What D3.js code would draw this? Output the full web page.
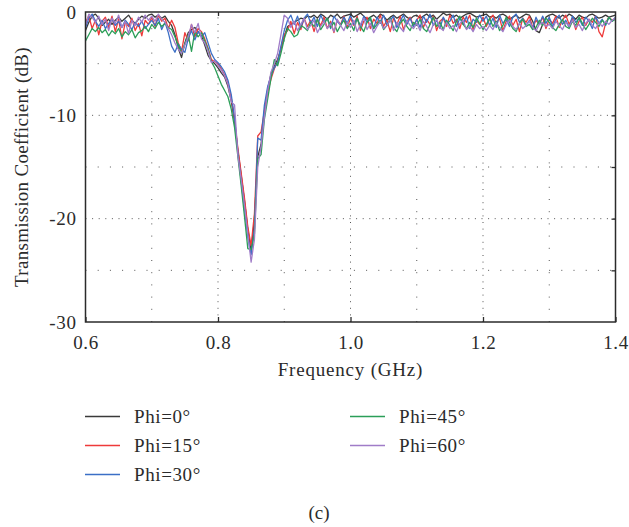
<!DOCTYPE html>
<html>
<head>
<meta charset="utf-8">
<script src="https://cdn.jsdelivr.net/npm/d3@7"></script>
<style>
  html, body { margin: 0; padding: 0; background: #fff; }
  svg { display: block; }
  svg text { font-family: 'Liberation Serif', 'DejaVu Serif', 'Times New Roman', serif; }
</style>
</head>
<body>
<script>
// sampled every 0.005 GHz from 0.6 to 1.4 GHz (161 points per curve)
var freqStep = 0.005
var freqs = d3.range(0, 161).map(i => +(0.6 + i * freqStep).toFixed(3))

var seriesNames = ['Phi=0°', 'Phi=15°', 'Phi=30°', 'Phi=45°', 'Phi=60°']
var seriesColors = ['#3a3a3a', '#ee3a3a', '#3b6fc6', '#2b9e58', '#a07cc8']

var phi0 = [
  -1.8,-1.0,-0.4,-0.2,-0.6,-1.3,-1.0,-0.7,-1.2,-0.8,-0.5,-0.9,-0.6,-0.3,-0.8,-1.1,-0.7,-0.4,-0.6,-0.3,
  -0.2,-0.5,-0.3,-0.6,-0.4,-0.9,-1.3,-2.2,-3.5,-4.4,-3.0,-2.0,-1.7,-1.5,-1.9,-2.3,-3.2,-4.2,-4.7,-5.0,
  -5.4,-5.9,-6.3,-7.2,-8.6,-10.6,-13.4,-15.8,-18.3,-21.0,-23.2,-20.0,-14.0,-12.8,-9.8,-7.5,-6.0,-5.2,-4.6,-3.6,
  -2.4,-1.4,-1.2,-1.0,-0.8,-0.6,-0.7,-0.4,-0.5,-0.3,-0.6,-0.2,-0.4,-0.7,-0.3,-0.5,-0.2,-0.6,-0.4,-0.3,
  -0.2,-0.5,-0.3,-0.1,-0.4,-0.7,-0.5,-0.3,-0.6,-0.2,-0.4,-0.8,-0.5,-0.3,-0.6,-0.4,-0.2,-0.5,-0.7,-0.4,
  -0.3,-0.6,-0.4,-0.2,-0.5,-0.3,-0.7,-0.4,-0.1,-0.3,-0.2,-0.5,-0.3,-0.6,-0.4,-0.2,-0.1,-0.3,-0.5,-0.4,
  -0.3,-0.2,-0.5,-0.4,-0.6,-0.3,-0.2,-0.4,-0.7,-0.5,-0.3,-0.6,-0.4,-0.2,-0.3,-0.9,-1.8,-2.0,-1.2,-0.5,
  -0.3,-0.2,-0.4,-0.6,-0.3,-0.5,-0.2,-0.4,-0.7,-0.3,-0.5,-0.6,-0.3,-0.2,-0.4,-0.6,-0.5,-0.3,-0.5,-0.4,
  -0.3
]
var phi15 = [
  -1.0,-0.4,-1.6,-0.8,-2.2,-0.9,-0.5,-1.5,-0.4,-1.9,-0.7,-2.6,-1.0,-1.4,-0.6,-1.8,-1.1,-2.3,-0.8,-1.2,
  -0.5,-1.4,-0.3,-0.9,-0.6,-1.6,-0.8,-1.5,-3.0,-3.8,-2.0,-2.8,-1.2,-2.4,-1.6,-1.9,-2.6,-3.5,-4.6,-4.8,
  -5.0,-5.5,-6.1,-6.9,-8.3,-10.4,-13.2,-15.6,-18.0,-20.8,-22.6,-19.5,-12.0,-11.6,-9.6,-7.8,-6.5,-5.5,-4.8,-3.5,
  -2.2,-1.8,-0.9,-2.1,-1.0,-1.7,-0.6,-1.4,-0.8,-1.9,-0.7,-1.3,-0.5,-1.6,-0.9,-2.0,-0.8,-1.2,-0.4,-1.5,
  -0.6,-1.3,-0.4,-1.8,-0.9,-0.5,-1.6,-0.7,-1.1,-0.3,-1.4,-0.8,-1.9,-0.6,-1.2,-0.4,-1.7,-0.9,-0.5,-1.3,
  -0.8,-0.3,-1.5,-0.7,-1.2,-0.4,-1.8,-0.9,-0.6,-1.4,-0.3,-1.1,-0.7,-1.6,-0.5,-1.0,-0.3,-1.7,-0.8,-1.2,
  -0.5,-1.4,-0.7,-0.3,-1.1,-0.6,-1.8,-0.9,-0.4,-1.3,-0.7,-1.9,-0.6,-1.0,-0.4,-1.5,-0.8,-1.2,-0.5,-1.6,
  -0.7,-1.1,-0.4,-1.5,-0.8,-0.3,-1.2,-0.6,-1.7,-0.9,-0.5,-1.3,-0.7,-1.0,-0.4,-1.9,-2.4,-1.1,-0.5,-0.8,
  -0.6
]
var phi30 = [
  -1.5,-0.6,-0.2,-0.9,-1.4,-0.8,-1.6,-1.1,-0.7,-1.3,-0.9,-1.5,-0.8,-1.2,-1.7,-1.0,-1.4,-0.9,-1.6,-1.2,
  -0.8,-1.3,-0.6,-1.7,-1.0,-2.0,-3.3,-3.9,-3.1,-3.6,-3.9,-2.6,-1.8,-2.7,-1.9,-2.4,-2.0,-3.0,-4.0,-4.6,
  -4.9,-5.3,-5.8,-6.6,-8.0,-10.3,-13.6,-16.4,-19.2,-21.8,-23.5,-21.0,-12.2,-12.4,-9.0,-7.2,-6.2,-5.4,-4.9,-3.3,
  -1.8,-0.8,-0.3,-1.2,-0.4,-1.5,-0.6,-0.2,-1.1,-0.5,-1.4,-0.3,-1.0,-0.6,-1.6,-0.4,-0.9,-1.3,-0.5,-1.1,
  -0.3,-1.2,-0.6,-1.5,-0.4,-1.0,-0.7,-1.6,-0.5,-1.1,-0.3,-1.3,-0.8,-0.4,-1.5,-0.9,-0.3,-1.2,-0.6,-1.4,
  -0.7,-1.5,-0.4,-1.0,-0.2,-1.3,-0.8,-1.6,-0.5,-1.1,-0.9,-0.3,-1.4,-0.6,-1.2,-0.4,-1.6,-0.7,-1.0,-0.3,
  -0.9,-0.4,-1.3,-0.6,-1.5,-0.3,-1.1,-0.7,-1.4,-0.5,-0.2,-1.0,-0.6,-1.3,-0.8,-1.6,-0.5,-1.2,-0.4,-1.1,
  -0.5,-1.4,-0.7,-0.3,-1.2,-0.8,-1.5,-0.4,-1.0,-0.6,-1.3,-0.5,-0.9,-1.6,-0.4,-1.1,-0.7,-1.3,-0.5,-0.9,
  -0.5
]
var phi45 = [
  -2.8,-2.2,-1.6,-1.9,-1.5,-2.0,-1.7,-2.3,-1.8,-2.1,-1.6,-2.4,-1.9,-2.2,-1.7,-2.5,-2.0,-1.8,-1.4,-1.9,
  -1.2,-1.6,-1.0,-1.4,-1.1,-1.5,-1.7,-2.4,-3.2,-4.0,-3.1,-2.2,-3.8,-1.9,-2.4,-2.0,-2.8,-3.6,-4.8,-5.4,
  -6.2,-7.0,-7.6,-8.2,-9.4,-11.2,-14.0,-16.8,-19.8,-22.9,-23.0,-21.5,-14.2,-13.8,-10.4,-8.4,-6.4,-4.6,-5.2,-4.0,
  -2.6,-1.6,-1.9,-2.4,-2.2,-1.3,-1.5,-1.8,-1.0,-1.4,-0.7,-1.7,-1.2,-0.6,-1.5,-1.0,-1.9,-1.3,-0.8,-1.6,
  -1.1,-1.8,-0.6,-1.4,-1.9,-1.0,-0.5,-1.6,-1.2,-0.8,-1.7,-1.3,-0.6,-1.5,-1.9,-1.1,-0.7,-1.4,-1.8,-1.0,
  -1.3,-0.7,-1.6,-1.9,-1.2,-0.5,-1.4,-1.0,-1.7,-0.8,-1.3,-1.8,-0.9,-0.4,-1.2,-1.6,-1.0,-1.5,-0.6,-1.1,
  -1.7,-1.2,-0.6,-1.4,-0.9,-1.8,-1.3,-0.5,-1.0,-1.6,-1.9,-1.1,-0.7,-1.4,-1.2,-1.7,-1.5,-0.8,-1.3,-0.6,
  -1.0,-1.5,-1.8,-1.2,-0.7,-1.4,-1.6,-0.9,-1.3,-0.5,-1.1,-1.7,-1.2,-0.6,-1.0,-1.4,-0.8,-1.2,-0.5,-0.9,
  -0.7
]
var phi60 = [
  -1.3,-0.2,-0.5,-1.0,-0.4,-1.2,-0.7,-1.8,-0.6,-1.1,-0.3,-1.5,-0.9,-2.1,-0.8,-1.3,-0.5,-1.0,-0.3,-0.8,
  -0.4,-0.9,-0.2,-0.7,-1.0,-1.6,-2.2,-3.0,-3.6,-4.0,-3.2,-2.4,-1.2,-2.0,-1.1,-2.6,-3.0,-3.8,-4.9,-4.7,
  -5.2,-5.6,-6.2,-7.0,-8.7,-9.0,-13.9,-16.2,-18.7,-21.5,-24.2,-22.0,-15.0,-13.0,-10.2,-7.6,-5.8,-5.0,-4.0,-2.2,
  -0.3,-0.6,-1.5,-0.9,-1.8,-1.2,-0.6,-1.7,-1.3,-0.8,-2.0,-1.4,-0.9,-1.6,-1.1,-1.9,-0.7,-1.3,-1.8,-1.0,
  -1.5,-0.8,-1.9,-1.2,-0.6,-1.7,-1.1,-2.0,-1.4,-0.9,-1.6,-1.3,-0.7,-1.8,-1.0,-1.5,-1.9,-0.8,-1.3,-1.6,
  -1.1,-1.8,-0.9,-1.4,-2.0,-1.2,-0.7,-1.5,-1.8,-1.0,-1.6,-1.3,-1.9,-1.1,-0.8,-1.7,-1.4,-1.9,-1.2,-1.6,
  -1.4,-1.8,-1.3,-1.7,-1.0,-1.5,-1.9,-1.2,-0.8,-1.4,-1.7,-1.1,-1.6,-1.3,-0.9,-1.5,-1.8,-1.2,-1.0,-1.4,
  -1.2,-1.6,-0.9,-1.3,-1.7,-1.0,-1.4,-0.8,-1.5,-1.2,-1.8,-1.1,-0.7,-1.3,-1.6,-1.0,-1.4,-0.9,-1.2,-0.8,
  -0.6
]
var seriesValues = [phi0, phi15, phi30, phi45, phi60]

var xTicks = [0.6, 0.8, 1.0, 1.2, 1.4]
var yTicks = [0, -10, -20, -30]
var xGrid = [0.7, 0.8, 0.9, 1.0, 1.1, 1.2, 1.3]
var yGrid = [-5, -10, -15, -20, -25]

var width = 629, height = 527
var plot = {left: 85.5, right: 615.5, top: 12, bottom: 322}
var ink = '#2b2b2b'
var fontSize = 19

const svg = d3.select('body').append('svg')
    .attr('width', width)
    .attr('height', height)

const x = d3.scaleLinear().domain([0.6, 1.4]).range([plot.left, plot.right])
const y = d3.scaleLinear().domain([-30, 0]).range([plot.bottom, plot.top])

// dotted grid, majors denser than minors
const grid = svg.append('g').attr('class', 'grid')
grid.selectAll('line.vx').data(xGrid).enter().append('line')
    .attr('x1', d => x(d)).attr('x2', d => x(d))
    .attr('y1', plot.bottom).attr('y2', plot.top)
    .attr('stroke', '#555')
    .attr('stroke-width', 1)
    .attr('stroke-dasharray', (d, i) => i % 2 === 1 ? '1,5.6' : '1,11.2')
grid.selectAll('line.hy').data(yGrid).enter().append('line')
    .attr('x1', plot.left).attr('x2', plot.right)
    .attr('y1', d => y(d)).attr('y2', d => y(d))
    .attr('stroke', '#555')
    .attr('stroke-width', 1)
    .attr('stroke-dasharray', (d, i) => i % 2 === 1 ? '1,5.6' : '1,11.2')

svg.append('clipPath').attr('id', 'plotClip').append('rect')
    .attr('x', plot.left).attr('y', plot.top - 1)
    .attr('width', plot.right - plot.left).attr('height', plot.bottom - plot.top + 1)

const line = d3.line()
    .x((d, i) => x(freqs[i]))
    .y(d => y(d))

svg.append('g').attr('clip-path', 'url(#plotClip)')
  .selectAll('path').data(seriesValues).enter().append('path')
    .attr('d', d => line(d))
    .attr('fill', 'none')
    .attr('stroke', (d, i) => seriesColors[i])
    .attr('stroke-width', 1.3)
    .attr('stroke-linejoin', 'round')

// frame
svg.append('rect')
    .attr('x', plot.left).attr('y', plot.top)
    .attr('width', plot.right - plot.left).attr('height', plot.bottom - plot.top)
    .attr('fill', 'none')
    .attr('stroke', ink)
    .attr('stroke-width', 1.5)

// inward ticks
const xAxis = svg.append('g').attr('transform', `translate(0, ${plot.bottom})`)
    .call(d3.axisBottom(x).tickValues(xTicks).tickSizeInner(-5).tickSizeOuter(0).tickPadding(14)
      .tickFormat(d3.format('.1f')))
xAxis.attr('font-family', null)
xAxis.select('.domain').remove()
xAxis.selectAll('.tick line').attr('stroke', ink).attr('stroke-width', 1.3)
xAxis.selectAll('.tick text')
    .attr('fill', ink)
    .attr('font-size', fontSize)
    .attr('letter-spacing', '0.6px')

const yAxis = svg.append('g').attr('transform', `translate(${plot.left}, 0)`)
    .call(d3.axisLeft(y).tickValues(yTicks).tickSize(0).tickPadding(9)
      .tickFormat(d => d3.format('d')(d).replace('−', '-')))
yAxis.attr('font-family', null)
yAxis.select('.domain').remove()
yAxis.selectAll('.tick text')
    .attr('fill', ink)
    .attr('font-size', fontSize)
    .attr('letter-spacing', '0.6px')

const rightTicks = svg.append('g').attr('transform', `translate(${plot.right}, 0)`)
    .call(d3.axisRight(y).tickValues(yGrid).tickSize(-4).tickFormat(''))
rightTicks.select('.domain').remove()
rightTicks.selectAll('.tick line').attr('stroke', ink).attr('stroke-width', 1.3)

const topTicks = svg.append('g').attr('transform', `translate(0, ${plot.top})`)
    .call(d3.axisTop(x).tickValues([0.8, 1.0, 1.2]).tickSize(-4).tickFormat(''))
topTicks.select('.domain').remove()
topTicks.selectAll('.tick line').attr('stroke', ink).attr('stroke-width', 1.3)

// axis titles
svg.append('text')
    .attr('transform', `translate(28, ${(plot.top + plot.bottom) / 2}) rotate(-90)`)
    .attr('text-anchor', 'middle')
    .attr('fill', ink)
    .attr('font-size', fontSize)
    .attr('letter-spacing', '0.3px')
    .text('Transmission Coefficient (dB)')

svg.append('text')
    .attr('x', (plot.left + plot.right) / 2)
    .attr('y', 376)
    .attr('text-anchor', 'middle')
    .attr('fill', ink)
    .attr('font-size', fontSize)
    .attr('letter-spacing', '0.8px')
    .text('Frequency (GHz)')

// legend: two columns
var legendCols = [85, 350]
var legendRows = [416.5, 445.5, 474.5]
const legend = svg.append('g').attr('class', 'legend')
const items = legend.selectAll('g').data(seriesNames).enter().append('g')
    .attr('transform', (d, i) => `translate(${legendCols[i < 3 ? 0 : 1]}, ${legendRows[i < 3 ? i : i - 3]})`)
items.append('line')
    .attr('x1', 0).attr('x2', 35)
    .attr('stroke', (d, i) => seriesColors[i])
    .attr('stroke-width', 1.6)
items.append('text')
    .attr('x', 49)
    .attr('dy', '0.35em')
    .attr('fill', ink)
    .attr('font-size', fontSize)
    .attr('letter-spacing', '0.6px')
    .text(d => d)

svg.append('text')
    .attr('x', 319)
    .attr('y', 512)
    .attr('dy', '0.35em')
    .attr('text-anchor', 'middle')
    .attr('fill', ink)
    .attr('font-size', fontSize)
    .text('(c)')
</script>
</body>
</html>
